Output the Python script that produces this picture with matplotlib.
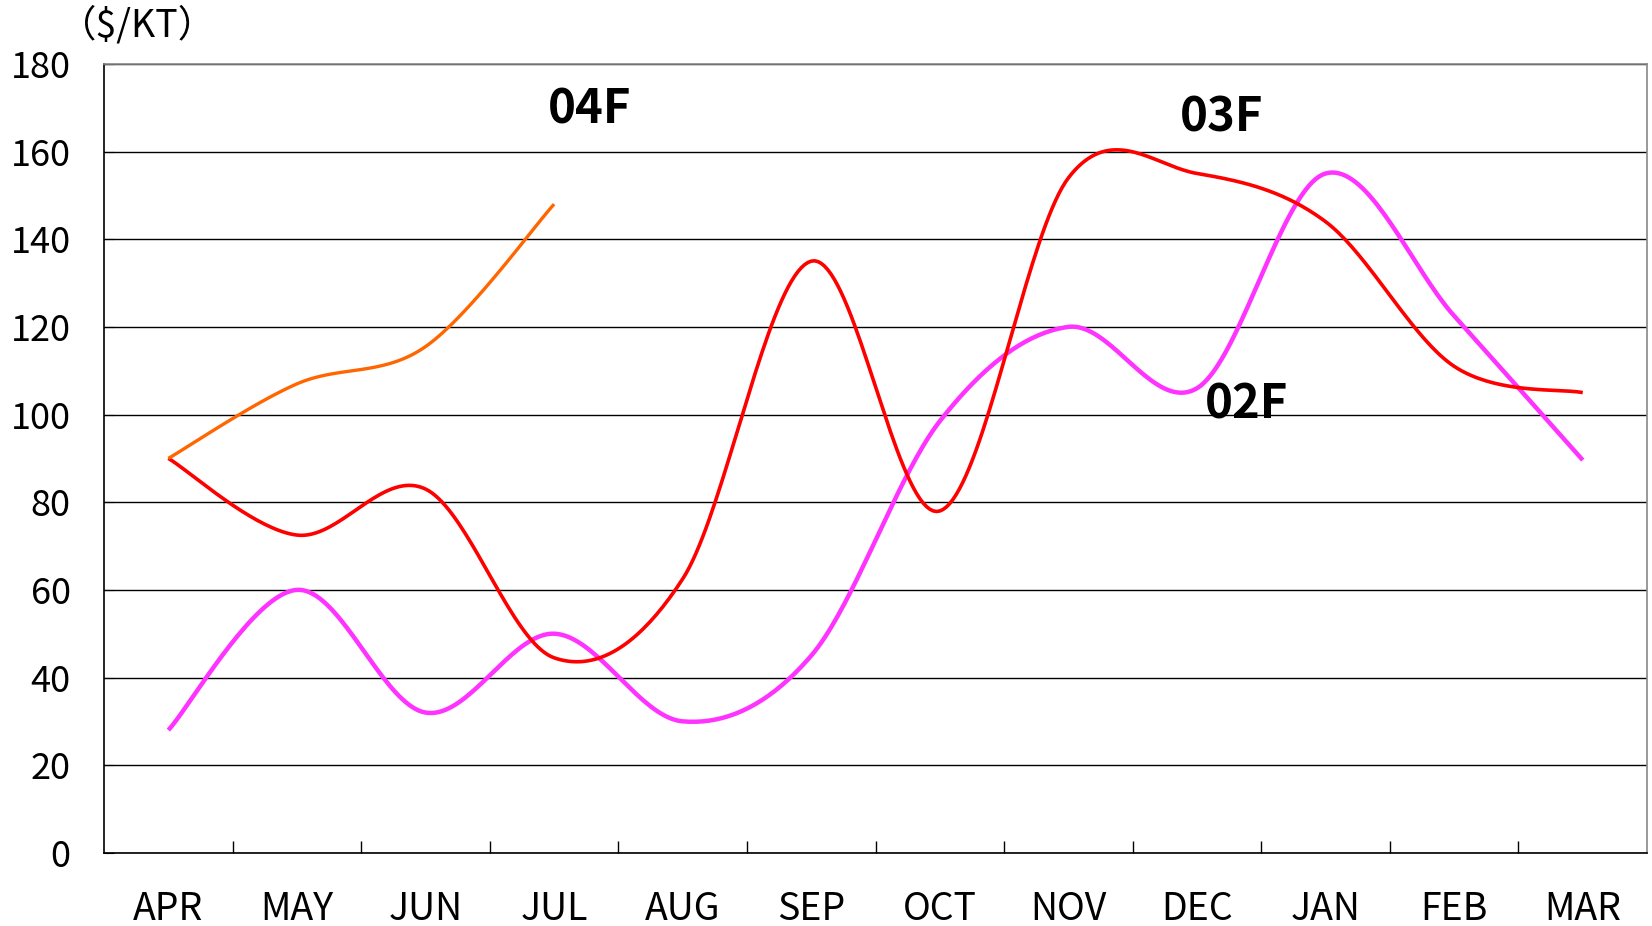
import numpy as np
import matplotlib
matplotlib.use("Agg")
import matplotlib.pyplot as plt

plt.rcParams["font.family"] = ["Noto Sans CJK JP", "DejaVu Sans"]

# monthly values ($/KT)
months = ["APR", "MAY", "JUN", "JUL", "AUG", "SEP",
          "OCT", "NOV", "DEC", "JAN", "FEB", "MAR"]
f04 = [90, 107, 115.5, 148]
f03 = [90, 72.5, 83, 44.5, 62.5, 135, 78, 154, 155, 144, 111, 105]
f02 = [28, 60, 32, 50, 30, 45, 98.5, 120, 106, 155, 122.5, 89.6]


def smooth(vals, n=40):
    # catmull-rom through monthly points, like a spreadsheet "smoothed line"
    p = np.asarray(vals, dtype=float)
    x = np.arange(len(p), dtype=float)
    pp = np.concatenate([[p[0]], p, [p[-1]]])
    xx = np.concatenate([[x[0]], x, [x[-1]]])
    t = np.linspace(0, 1, n)[:, None]
    outx, outy = [], []
    for i in range(len(p) - 1):
        for arr, out in ((xx, outx), (pp, outy)):
            a, b, c, d = arr[i], arr[i + 1], arr[i + 2], arr[i + 3]
            m1 = (c - a) / 2
            m2 = (d - b) / 2
            h00 = 2 * t**3 - 3 * t**2 + 1
            h10 = t**3 - 2 * t**2 + t
            h01 = -2 * t**3 + 3 * t**2
            h11 = t**3 - t**2
            out.append((h00 * b + h10 * m1 + h01 * c + h11 * m2).ravel())
    return np.concatenate(outx), np.concatenate(outy)


fig = plt.figure(figsize=(16.52, 9.26), dpi=100)
ax = fig.add_axes([0.063, 0.079, 0.934, 0.852])

for vals, col, lw in ((f02, "#ff33ff", 3.2), (f03, "#ff0000", 2.6), (f04, "#ff6600", 2.4)):
    sx, sy = smooth(vals)
    ax.plot(sx, sy, color=col, lw=lw, solid_capstyle="butt", zorder=3)

ax.set_xlim(-0.5, 11.5)
ax.set_ylim(0, 180)
ax.set_yticks(np.arange(0, 181, 20))
ax.yaxis.grid(True, color="black", lw=1.0)
ax.set_axisbelow(True)

ax.set_xticks(np.arange(12))
ax.set_xticklabels(months)
ax.set_xticks(np.arange(0.5, 11, 1), minor=True)
ax.tick_params(axis="x", which="major", length=0, pad=27, labelsize=27)
ax.tick_params(axis="x", which="minor", direction="in", length=9, width=1, color="black")
ax.tick_params(axis="y", direction="in", length=7, pad=24, labelsize=26)

for s in ("left", "bottom"):
    ax.spines[s].set_color("black")
    ax.spines[s].set_linewidth(1.2)
for s in ("top", "right"):
    ax.spines[s].set_color("#888888")
    ax.spines[s].set_linewidth(1.2)

ax.text(3.28, 169.7, "04F", fontsize=34, fontweight="bold", ha="center", va="center")
ax.text(8.195, 167.7, "03F", fontsize=34, fontweight="bold", ha="center", va="center")
ax.text(8.384, 102.4, "02F", fontsize=34, fontweight="bold", ha="center", va="center")

fig.text(0.036, 0.972, "（$/KT）", fontsize=27, ha="left", va="center")

fig.savefig("out.png", dpi=100)
